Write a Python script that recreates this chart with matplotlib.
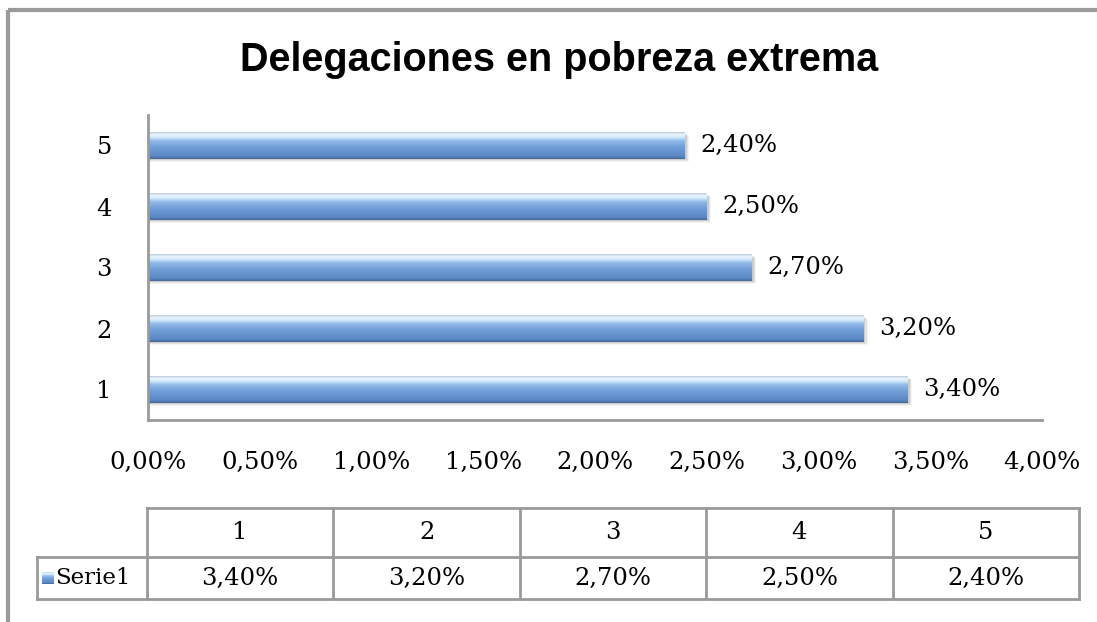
import numpy as np
import matplotlib
matplotlib.use("Agg")
import matplotlib.pyplot as plt
from matplotlib.colors import LinearSegmentedColormap
from matplotlib.patches import Rectangle

# data
categories = [1, 2, 3, 4, 5]
values = [3.40, 3.20, 2.70, 2.50, 2.40]
xticks = [0.0, 0.5, 1.0, 1.5, 2.0, 2.5, 3.0, 3.5, 4.0]
title = "Delegaciones en pobreza extrema"
series_name = "Serie1"


def pct(v):
    return ("%.2f%%" % v).replace(".", ",")


W, H = 1097, 622
fig = plt.figure(figsize=(W / 100, H / 100), dpi=100)
serif = ["DejaVu Serif"]
fs = 17.5
gray = "#9a9a9a"

# overlay in pixel units for frame and table
ov = fig.add_axes([0, 0, 1, 1])
ov.set_xlim(0, W)
ov.set_ylim(H, 0)
ov.axis("off")
ov.plot([8, 8], [10, H], color=gray, lw=3, solid_capstyle="butt")
ov.plot([8, W], [10, 10], color=gray, lw=3, solid_capstyle="butt")

ov.text(559, 60, title, ha="center", va="center", fontsize=28.5,
        fontweight="bold", family=["Liberation Sans", "DejaVu Sans"])

# main bar axes
x0, x1, ytop, ybot = 148, 1042, 115, 420
ax = fig.add_axes([x0 / W, 1 - ybot / H, (x1 - x0) / W, (ybot - ytop) / H])
ax.patch.set_alpha(0)

cmap = LinearSegmentedColormap.from_list(
    "bar", [(0.0, "#45689a"), (0.1, "#5b88c4"), (0.45, "#729fd8"),
            (0.68, "#93bbe8"), (0.82, "#d4eafb"), (0.92, "#eaf5fd"),
            (1.0, "#bccbdc")])
grad = np.linspace(0, 1, 64).reshape(-1, 1)
h = 0.43
for c, v in zip(categories, values):
    # soft shadow
    for k, a in enumerate([0.10, 0.07, 0.04]):
        ax.add_patch(Rectangle((0.0, c - h / 2 - 0.02 - 0.02 * k), v + 0.01 + 0.005 * k, h,
                               color="#000000", alpha=a, lw=0, zorder=1))
    ax.imshow(grad, cmap=cmap, origin="lower", aspect="auto",
              extent=(0, v, c - h / 2, c + h / 2), zorder=2)
    ax.text(v + 0.07, c, pct(v), va="center", ha="left", fontsize=fs,
            family=serif)

ax.set_xlim(0, 4.0)
ax.set_ylim(0.5, 5.5)
ax.set_xticks(xticks)
ax.set_xticklabels([pct(t) for t in xticks], fontsize=fs, family=serif)
ax.set_yticks(categories)
ax.set_yticklabels([str(c) for c in categories], fontsize=fs, family=serif)
ax.tick_params(length=0)
ax.tick_params(axis="x", pad=22)
ax.tick_params(axis="y", pad=26)
for s in ["top", "right"]:
    ax.spines[s].set_visible(False)
for s in ["left", "bottom"]:
    ax.spines[s].set_color(gray)
    ax.spines[s].set_linewidth(2)
    ax.spines[s].set_zorder(3)

# data table
tl, tr = 147, 1079
r0, r1, r2 = 508, 557, 599
cw = (tr - tl) / len(categories)
lk = dict(color=gray, lw=2)
ov.plot([tl, tr], [r0, r0], **lk)
ov.plot([37, tr], [r1, r1], **lk)
ov.plot([37, tr], [r2, r2], **lk)
ov.plot([37, 37], [r1, r2], **lk)
for i in range(len(categories) + 1):
    ov.plot([tl + i * cw] * 2, [r0, r2], **lk)
for i, (c, v) in enumerate(zip(categories, values)):
    xc = tl + (i + 0.5) * cw
    ov.text(xc, (r0 + r1) / 2, str(c), ha="center", va="center",
            fontsize=fs, family=serif)
    ov.text(xc, (r1 + r2) / 2, pct(v), ha="center", va="center",
            fontsize=fs, family=serif)
# legend key
key = fig.add_axes([42 / W, 1 - 584 / H, 12 / W, 12 / H])
key.imshow(grad, cmap=cmap, origin="lower", aspect="auto")
key.axis("off")
ov.text(55, (r1 + r2) / 2, series_name, ha="left", va="center",
        fontsize=fs - 1, family=serif)

fig.savefig("out.png", dpi=100)
